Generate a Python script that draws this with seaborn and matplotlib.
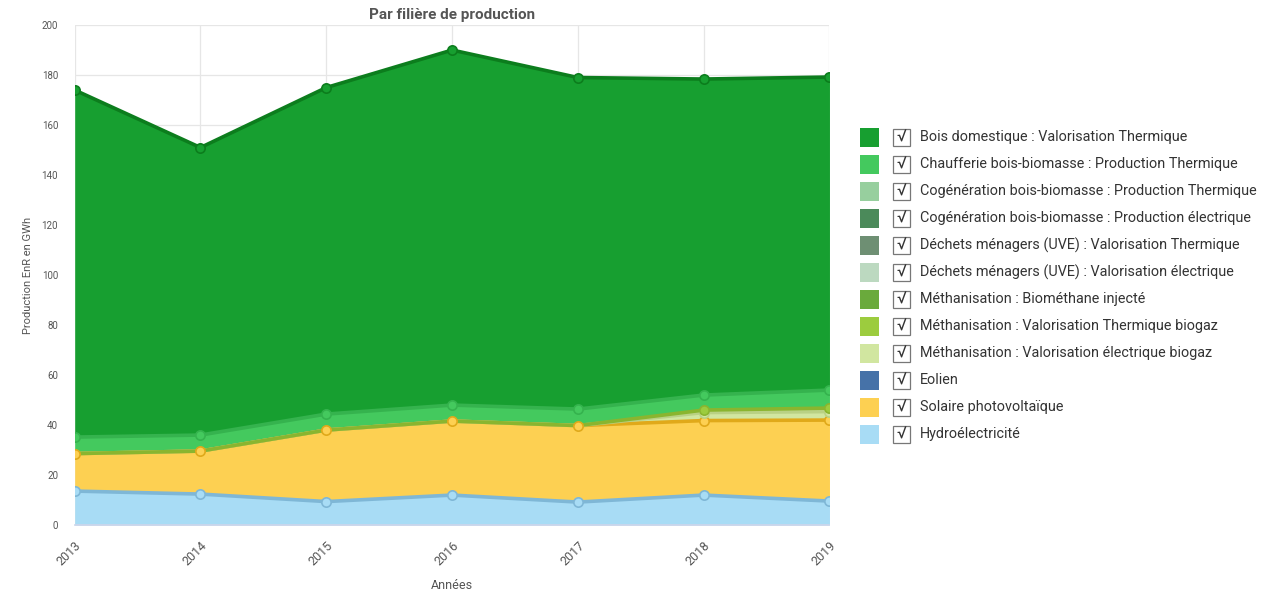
import numpy as np
import matplotlib
matplotlib.use("Agg")
import matplotlib.pyplot as plt
from matplotlib.patches import Rectangle
import seaborn as sns

# data (GWh)
years = [2013, 2014, 2015, 2016, 2017, 2018, 2019]

hydro = [13.6, 12.4, 9.4, 12.0, 9.2, 12.0, 9.6]
solaire = [15.0, 17.2, 28.6, 29.6, 30.6, 29.8, 32.4]
eolien = [0, 0, 0, 0, 0, 0, 0]
metha_elec = [0, 0, 0, 0, 0, 3.2, 3.4]
metha_therm = [0, 0, 0, 0, 0, 1.0, 1.4]
metha_biomethane = [0, 0, 0, 0, 0, 0, 0]
dechets_elec = [0, 0, 0, 0, 0, 0, 0]
dechets_therm = [0, 0, 0, 0, 0, 0, 0]
cogen_elec = [0, 0, 0, 0, 0, 0, 0]
cogen_therm = [0, 0, 0, 0, 0, 0, 0]
chaufferie = [6.6, 6.4, 6.4, 6.4, 6.6, 6.0, 7.2]
bois = [138.8, 115.0, 130.6, 142.0, 132.6, 126.4, 125.2]

# legend order (top to bottom) = reverse of stacking order
labels = [
    "Bois domestique : Valorisation Thermique",
    "Chaufferie bois-biomasse : Production Thermique",
    "Cogénération bois-biomasse : Production Thermique",
    "Cogénération bois-biomasse : Production électrique",
    "Déchets ménagers (UVE) : Valorisation Thermique",
    "Déchets ménagers (UVE) : Valorisation électrique",
    "Méthanisation : Biométhane injecté",
    "Méthanisation : Valorisation Thermique biogaz",
    "Méthanisation : Valorisation électrique biogaz",
    "Eolien",
    "Solaire photovoltaïque",
    "Hydroélectricité",
]
series = [bois, chaufferie, cogen_therm, cogen_elec, dechets_therm, dechets_elec,
          metha_biomethane, metha_therm, metha_elec, eolien, solaire, hydro]
fills = ["#179f30", "#44c95e", "#97cf9e", "#4b8a5a", "#6e8f73", "#bcd9c0",
         "#6aaa3c", "#9ccc3e", "#d1e6a0", "#4672a8", "#fdd052", "#a8dcf5"]
edges = ["#0c7d1d", "#35b34e", "#7fbf88", "#3d7549", "#5b7a60", "#a6c9ab",
         "#5a9430", "#8ab52f", "#b9d184", "#365d8d", "#e0a91a", "#7fb7d6"]

sns.set_theme(style="white")
plt.rcParams["font.family"] = ["Roboto", "DejaVu Sans"]

fig = plt.figure(figsize=(12.88, 5.96), dpi=100)
ax = fig.add_axes([0.058, 0.119, 0.586, 0.839])

x = np.array(years)
base = np.zeros(len(years))
# stack from the bottom (Hydro) upward
for vals, fc, ec in zip(series[::-1], fills[::-1], edges[::-1]):
    top = base + np.array(vals)
    ax.fill_between(x, base, top, color=fc, linewidth=0, zorder=2)
    base = top

base = np.zeros(len(years))
for vals, fc, ec in zip(series[::-1], fills[::-1], edges[::-1]):
    v = np.array(vals)
    top = base + v
    if np.any(v > 0):
        sns.lineplot(x=x, y=top, ax=ax, color=ec, linewidth=2.6, zorder=3)
        m = v > 0
        sns.scatterplot(x=x[m], y=top[m], ax=ax, color=fc, edgecolor=ec,
                        linewidth=1.2, s=45, zorder=4)
    base = top

ax.set_xlim(2013, 2019)
ax.set_ylim(0, 200)
ax.set_yticks(range(0, 201, 20))
ax.set_xticks(years)
ax.set_xticklabels([str(y) for y in years], rotation=45, ha="right",
                   rotation_mode="anchor", fontsize=9, color="#555555")
ax.tick_params(axis="y", labelsize=7, colors="#555555", length=0, pad=12)
ax.tick_params(axis="x", length=5, color="#cccccc", pad=5)
ax.grid(True, color="#e6e6e6", linewidth=0.9, zorder=0)
ax.set_axisbelow(True)
for s in ["top", "right", "left"]:
    ax.spines[s].set_visible(False)
ax.spines["bottom"].set_color("#ccd6eb")

ax.set_ylabel("Production EnR en GWh", fontsize=8, color="#555555", labelpad=6)
ax.set_xlabel("Années", fontsize=9, color="#555555", labelpad=8)
ax.set_title("Par filière de production", fontsize=11, fontweight="bold",
             color="#555555", pad=4)

# custom legend with checkboxes
W, H = 1288.0, 596.0
y0, step = 137.0, 27.0
for i, (lab, fc) in enumerate(zip(labels, fills)):
    yc = y0 + i * step
    fig.add_artist(Rectangle((860 / W, 1 - (yc + 10) / H), 19 / W, 19 / H,
                             transform=fig.transFigure, facecolor=fc,
                             edgecolor="none"))
    fig.add_artist(Rectangle((893 / W, 1 - (yc + 9) / H), 17 / W, 17 / H,
                             transform=fig.transFigure, facecolor="white",
                             edgecolor="#777777", linewidth=0.9))
    fig.text(901.5 / W, 1 - yc / H, "√", fontsize=12, color="#333333",
             ha="center", va="center")
    fig.text(920 / W, 1 - yc / H, lab, fontsize=10.4, color="#333333",
             ha="left", va="center")

fig.savefig("out.png", dpi=100)
